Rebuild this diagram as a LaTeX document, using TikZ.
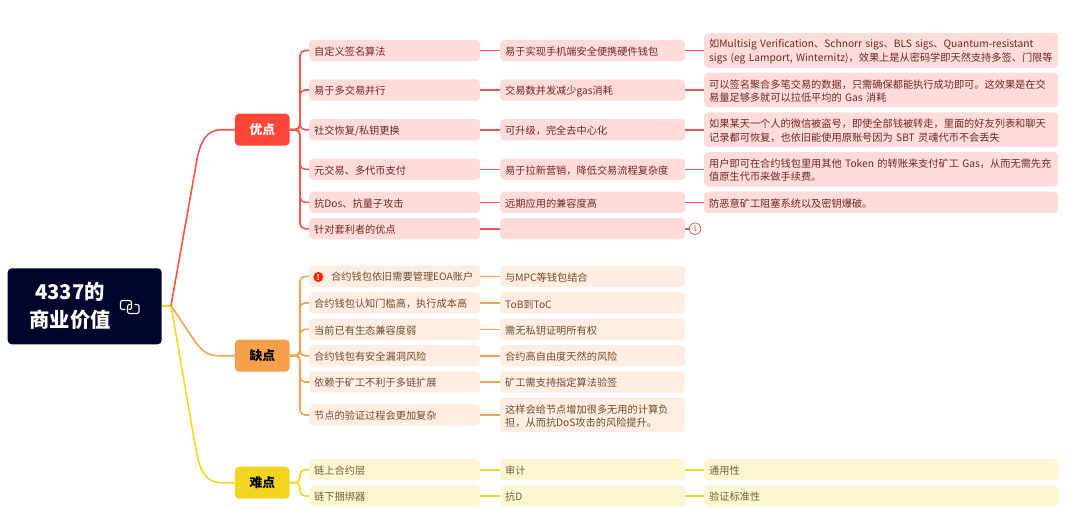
\documentclass[tikz,border=0pt]{standalone}
\usepackage{fontspec}
\setmainfont{Noto Sans CJK SC}
\usetikzlibrary{calc}
\definecolor{cr}{HTML}{F0544C}
\definecolor{co}{HTML}{F5A04F}
\definecolor{cy}{HTML}{F3D722}
\definecolor{fr}{HTML}{FFDBD9}
\definecolor{fo}{HTML}{FFEDE1}
\definecolor{fy}{HTML}{FFF5D3}
\definecolor{tr}{HTML}{6E2825}
\definecolor{to}{HTML}{6E4B2D}
\definecolor{ty}{HTML}{6E6330}
\definecolor{rootc}{HTML}{02042B}
\definecolor{tr1}{HTML}{FF4538}
\definecolor{to1}{HTML}{F69F4B}
\definecolor{ty1}{HTML}{F2D51E}
\tikzset{
  x=1pt,y=-1pt,
  box/.style={rounded corners=4pt,inner ysep=0pt,inner xsep=5pt,align=left,anchor=west,
    font=\fontsize{10.2}{13.3}\selectfont,execute at begin node={\rule{0pt}{10.8pt}}},
  lb/.style={box,minimum width=171pt,text width=161pt,minimum height=21.3pt},
  mb/.style={box,minimum width=185pt,text width=175pt,minimum height=21.3pt},
  wb/.style={box,minimum width=354pt,text width=344pt,minimum height=21.3pt},
  rb/.style={fill=fr,text=tr},
  ob/.style={fill=fo,text=to},
  yb/.style={fill=fy,text=ty},
  topic/.style={rounded corners=4pt,minimum width=54.7pt,minimum height=32pt,inner sep=0pt,
    font=\fontsize{12.8}{15}\selectfont\bfseries},
  lr/.style={draw=cr,line width=1.6pt},
  lo/.style={draw=co,line width=1.6pt},
  ly/.style={draw=cy,line width=1.6pt},
}
\begin{document}
\begin{tikzpicture}
\useasboundingbox (0,0) rectangle (1080,509);
\coordinate (hub) at (171,305.7);
% topics
\node[topic,fill=tr1,text=white] (you) at (262.3,129.7) {优点};
\node[topic,fill=to1,text=black] (que) at (262.3,355.7) {缺点};
\node[topic,fill=ty1,text=black] (nan) at (262.3,482.7) {难点};
\coordinate (yous) at (300,129.7);
\coordinate (ques) at (300,355.7);
\coordinate (nans) at (300,482.7);
% root
\node[fill=rootc,rounded corners=4pt,minimum width=154pt,minimum height=76pt,inner sep=0pt] (root) at (84.7,306.3) {};
% main branches
\draw[ly] (root.east |- hub) -- (hub);
\draw[ly] (hub) -- (196,450) .. controls (200,472) and (206,482.7) .. (222,482.7) -- (nan.west);
\draw[lo] (hub) -- (192,337) .. controls (200,349) and (206,355.7) .. (218,355.7) -- (que.west);
\draw[lr] (hub) -- (196,165) .. controls (200,140) and (207,129.7) .. (222,129.7) -- (you.west);
\node[text=white,inner sep=0pt,align=center,font=\fontsize{20.3}{27.7}\selectfont\bfseries] (rootlabel) at (70,306) {4337的\\商业价值};
\begin{scope}[white,line width=1.1pt,line cap=round,rounded corners=2pt]
  \draw (129,300.5) -- (120.5,300.5) -- (120.5,309.5) -- (125,309.5);
  \draw (129,300.5) -- (131.5,300.5) -- (131.5,309.5) -- (129,309.5);
  \draw (135,304.5) -- (139,304.5) -- (139,313.5) -- (127.5,313.5) -- (127.5,304.5) -- (129,304.5);
\end{scope}
% L2 youdian
\node[lb,rb] (a1) at (309,50.5) {自定义签名算法};
\node[lb,rb] (a2) at (309,90) {易于多交易并行};
\node[lb,rb] (a3) at (309,129.7) {社交恢复/私钥更换};
\node[lb,rb] (a4) at (309,169.3) {元交易、多代币支付};
\node[lb,rb] (a5) at (309,202.3) {抗Dos、抗量子攻击};
\node[lb,rb] (a6) at (309,228.7) {针对套利者的优点};
% L3
\node[mb,rb] (b1) at (500,50.5) {易于实现手机端安全便携硬件钱包};
\node[mb,rb] (b2) at (500,90) {交易数并发减少gas消耗};
\node[mb,rb] (b3) at (500,129.7) {可升级，完全去中心化};
\node[mb,rb] (b4) at (500,169.3) {易于拉新营销，降低交易流程复杂度};
\node[mb,rb] (b5) at (500,202.3) {远期应用的兼容度高};
\node[mb,rb] (b6) at (500,228.7) {};
% L4
\node[wb,rb,minimum height=34.7pt] (c1) at (704,50.5) {如Multisig Verification、Schnorr sigs、BLS sigs、Quantum-resistant\\sigs (eg Lamport, Winternitz)，效果上是从密码学即天然支持多签、门限等};
\node[wb,rb,minimum height=34.7pt] (c2) at (704,90) {可以签名聚合多笔交易的数据，只需确保都能执行成功即可。这效果是在交\\易量足够多就可以拉低平均的 Gas 消耗};
\node[wb,rb,minimum height=34.7pt] (c3) at (704,129.7) {如果某天一个人的微信被盗号，即使全部钱被转走，里面的好友列表和聊天\\记录都可恢复，也依旧能使用原账号因为 SBT 灵魂代币不会丢失};
\node[wb,rb,minimum height=34.7pt] (c4) at (704,169.3) {用户即可在合约钱包里用其他 Token 的转账来支付矿工 Gas，从而无需先充\\值原生代币来做手续费。};
\node[wb,rb] (c5) at (704,202.3) {防恶意矿工阻塞系统以及密钥爆破。};
\node[circle,draw=cr,line width=0.8pt,text=cr,inner sep=0pt,minimum size=11.5pt,font=\fontsize{8}{8}\selectfont] (c6) at (695,228.7) {1};
% que
\node[lb,ob] (d1) at (309,276.3) {};
\node[circle,fill=red!75!orange,text=white,inner sep=0pt,minimum size=10pt,font=\fontsize{8}{8}\selectfont\bfseries] (warn) at (318.3,277) {!};
\node[anchor=west,inner sep=0pt,text=to,font=\fontsize{10.2}{13.3}\selectfont] (d1t) at (331,277) {合约钱包依旧需要管理EOA账户};
\node[lb,ob] (d2) at (309,303) {合约钱包认知门槛高，执行成本高};
\node[lb,ob] (d3) at (309,329.3) {当前已有生态兼容度弱};
\node[lb,ob] (d4) at (309,355.7) {合约钱包有安全漏洞风险};
\node[lb,ob] (d5) at (309,382) {依赖于矿工不利于多链扩展};
\node[lb,ob] (d6) at (309,415) {节点的验证过程会更加复杂};
\node[mb,ob] (e1) at (500,276.3) {与MPC等钱包结合};
\node[mb,ob] (e2) at (500,303) {ToB到ToC};
\node[mb,ob] (e3) at (500,329.3) {需无私钥证明所有权};
\node[mb,ob] (e4) at (500,355.7) {合约高自由度天然的风险};
\node[mb,ob] (e5) at (500,382) {矿工需支持指定算法验签};
\node[mb,ob,minimum height=34.7pt] (e6) at (500,415) {这样会给节点增加很多无用的计算负\\担，从而抗DoS攻击的风险提升。};
% nan
\node[lb,yb] (f1) at (309,469.7) {链上合约层};
\node[lb,yb] (f2) at (309,496) {链下捆绑器};
\node[mb,yb] (g1) at (500,469.7) {审计};
\node[mb,yb] (g2) at (500,496) {抗D};
\node[wb,yb] (h1) at (704,469.7) {通用性};
\node[wb,yb] (h2) at (704,496) {验证标准性};
% connectors
\foreach \c in {a1,a2,a3,a4,a5,a6}{\draw[lr,rounded corners=5pt] (you.east) -- (yous) |- (\c.west);}
\foreach \c in {d1,d2,d3,d4,d5,d6}{\draw[lo,rounded corners=5pt] (que.east) -- (ques) |- (\c.west);}
\foreach \c in {f1,f2}{\draw[ly,rounded corners=5pt] (nan.east) -- (nans) |- (\c.west);}
\foreach \p/\q in {a1/b1,a2/b2,a3/b3,a4/b4,a5/b5,a6/b6,b1/c1,b2/c2,b3/c3,b4/c4,b5/c5,b6/c6}{\draw[lr] (\p.east) -- (\q.west);}
\foreach \p/\q in {d1/e1,d2/e2,d3/e3,d4/e4,d5/e5,d6/e6}{\draw[lo] (\p.east) -- (\q.west);}
\foreach \p/\q in {f1/g1,f2/g2,g1/h1,g2/h2}{\draw[ly] (\p.east) -- (\q.west);}
\end{tikzpicture}
\end{document}
